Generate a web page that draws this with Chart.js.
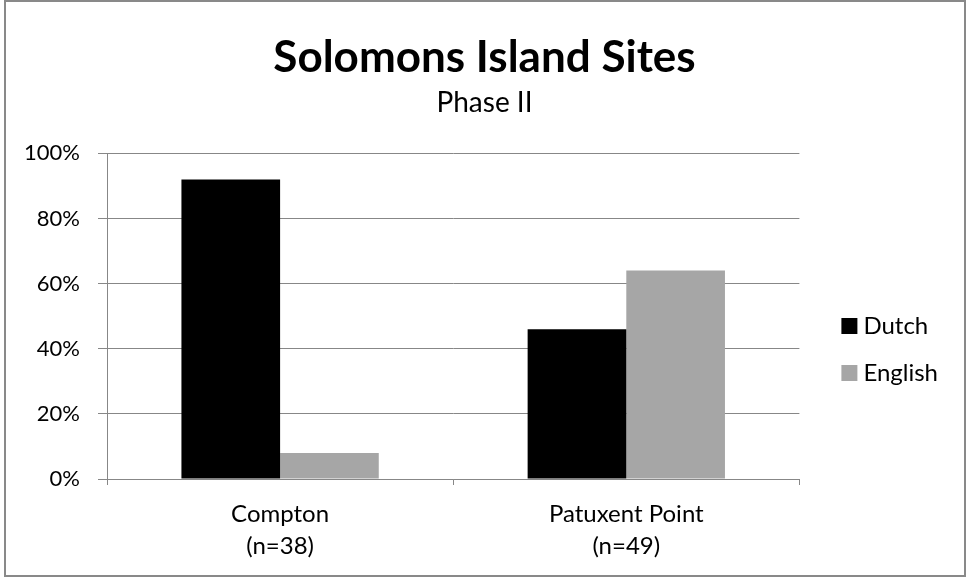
<!DOCTYPE html>
<html>
<head>
<meta charset="utf-8">
<script src="https://cdn.jsdelivr.net/npm/chart.js@4"></script>
<style>
  html, body { margin: 0; padding: 0; background: #fff; }
  #wrap { width: 969px; height: 579px; }
</style>
</head>
<body>
<div id="wrap"><canvas id="siteChart" width="969" height="579"></canvas></div>
<script>
// data
const sites = [['Compton', '(n=38)'], ['Patuxent Point', '(n=49)']];
const dutchPct = [92, 46];
const englishPct = [8, 64];
const yTicks = [0, 20, 40, 60, 80, 100];

const gridGray = '#878787';

// white background + grey frame round the whole chart
const framePlugin = {
    id: 'frame',
    beforeDraw(chart) {
        const c = chart.ctx;
        c.save();
        c.fillStyle = '#fff';
        c.fillRect(0, 0, chart.width, chart.height);
        c.restore();
    },
    afterDraw(chart) {
        const c = chart.ctx;
        c.save();
        c.strokeStyle = '#898989';
        c.lineWidth = 2;
        c.strokeRect(5, 1, 960, 575);
        c.restore();
    }
};

Chart.defaults.font.family = 'Lato, "Open Sans", sans-serif';
Chart.defaults.color = '#000';

const ctx = document.getElementById('siteChart').getContext('2d');
const siteChart = new Chart(ctx, {
    type: 'bar',
    data: {
        labels: sites,
        datasets: [{
            label: 'Dutch',
            data: dutchPct,
            backgroundColor: '#000000',
            barPercentage: 1,
            categoryPercentage: 0.57
        }, {
            label: 'English',
            data: englishPct,
            backgroundColor: '#a6a6a6',
            barPercentage: 1,
            categoryPercentage: 0.57
        }]
    },
    options: {
        responsive: false,
        animation: false,
        layout: {
            padding: { left: 21, right: 21, top: 0, bottom: 17 }
        },
        plugins: {
            title: {
                display: true,
                text: 'Solomons Island Sites',
                font: { size: 44, weight: 'bold', lineHeight: 1.2 },
                padding: { top: 31, bottom: 2 }
            },
            subtitle: {
                display: true,
                text: 'Phase II',
                font: { size: 28, lineHeight: 1.2 },
                padding: { top: 0, bottom: 34 }
            },
            legend: {
                position: 'right',
                align: 'center',
                // blank title only pushes the two entries down
                title: {
                    display: true,
                    text: ' ',
                    font: { size: 20, lineHeight: 1.2 },
                    padding: { top: 56, bottom: 57 }
                },
                labels: {
                    usePointStyle: true,
                    pointStyle: 'rect',
                    boxWidth: 4,
                    boxHeight: 16,
                    padding: 23,
                    font: { size: 24 }
                }
            },
            tooltip: { enabled: false }
        },
        scales: {
            x: {
                grid: {
                    offset: true,
                    drawOnChartArea: false,
                    color: gridGray,
                    tickLength: 6
                },
                border: { color: gridGray },
                ticks: {
                    padding: 13,
                    font: { size: 24, lineHeight: 1.333 }
                },
                afterFit(scale) { scale.height = 83; }
            },
            y: {
                min: 0,
                max: 100,
                afterBuildTicks(scale) {
                    scale.ticks = yTicks.map(v => ({ value: v }));
                },
                grid: { color: gridGray, tickLength: 9 },
                border: { color: gridGray },
                ticks: {
                    padding: 18,
                    font: { size: 22 },
                    callback: v => v + '%'
                },
                afterFit(scale) { scale.width = 86; }
            },
            // empty spacer axis: keeps the plot away from the legend
            spacer: {
                type: 'linear',
                position: 'right',
                grid: { display: false },
                border: { display: false },
                ticks: { display: false },
                afterFit(scale) { scale.width = 25; }
            }
        }
    },
    plugins: [framePlugin]
});
</script>
</body>
</html>
